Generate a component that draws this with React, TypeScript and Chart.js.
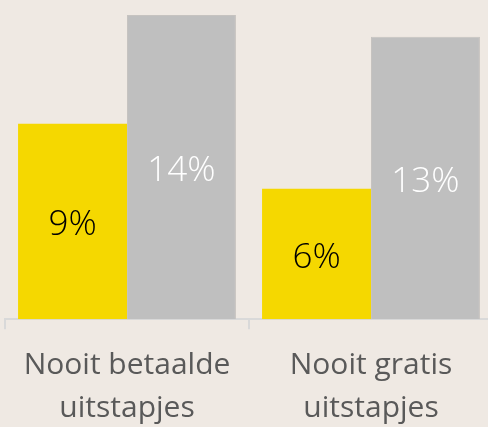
import React, { useEffect, useRef } from "react";
import { Chart, registerables } from "chart.js";

Chart.register(...registerables);

const categories: string[][] = [["Nooit betaalde", "uitstapjes"], ["Nooit gratis", "uitstapjes"]];
const seriesA: number[] = [9, 6];
const seriesB: number[] = [14, 13];
const labelsA: string[] = ["9%", "6%"];
const labelsB: string[] = ["14%", "13%"];

const BG = "#efe9e3";

const valueLabels = {
  id: "valueLabels",
  afterDatasetsDraw(chart: any) {
    const ctx = chart.ctx;
    chart.data.datasets.forEach((ds: any, di: number) => {
      const meta = chart.getDatasetMeta(di);
      meta.data.forEach((el: any, i: number) => {
        const txt = ds.valueText[i];
        ctx.save();
        ctx.font = "300 35px 'Open Sans', 'Noto Sans', sans-serif";
        ctx.fillStyle = ds.valueColor;
        ctx.textAlign = "center";
        ctx.textBaseline = "middle";
        ctx.fillText(txt, el.x, (el.y + el.base) / 2 + 4);
        ctx.restore();
      });
    });
  },
};

export default function App() {
  const ref = useRef<HTMLCanvasElement>(null);
  useEffect(() => {
    document.body.style.margin = "0";
    document.body.style.background = BG;
    const chart = new Chart(ref.current!, {
      type: "bar",
      data: {
        labels: categories,
        datasets: [
          {
            data: seriesA,
            backgroundColor: "#f5d800",
            valueText: labelsA,
            valueColor: "#000000",
          } as any,
          {
            data: seriesB,
            backgroundColor: "#bfbfbf",
            borderColor: "#c6c3c0",
            borderWidth: 1,
            valueText: labelsB,
            valueColor: "#ffffff",
          } as any,
        ],
      },
      options: {
        animation: false,
        responsive: true,
        maintainAspectRatio: false,
        layout: { padding: { top: 15, left: 5, right: 0, bottom: 0 } },
        datasets: { bar: { barPercentage: 1, categoryPercentage: 0.893 } },
        plugins: { legend: { display: false }, tooltip: { enabled: false } },
        scales: {
          y: { display: false, min: 0, max: 14 },
          x: {
            grid: {
              display: true,
              drawOnChartArea: false,
              drawTicks: true,
              offset: true,
              tickLength: 10,
              color: "#d9d9d9",
              lineWidth: 2,
            },
            border: { display: true, color: "#d9d9d9", width: 2 },
            ticks: {
              color: "#595959",
              padding: 15,
              font: { family: "'Open Sans', 'Noto Sans', sans-serif", size: 30, lineHeight: 1.43 },
              maxRotation: 0,
              autoSkip: false,
            },
          },
        },
      },
      plugins: [valueLabels],
    });
    return () => chart.destroy();
  }, []);
  return (
    <div style={{ position: "fixed", left: 0, top: 0, width: 488, height: 427, overflow: "hidden", background: BG }}>
      <div style={{ position: "relative", width: 493, height: 445 }}>
        <canvas ref={ref} />
      </div>
    </div>
  );
}
